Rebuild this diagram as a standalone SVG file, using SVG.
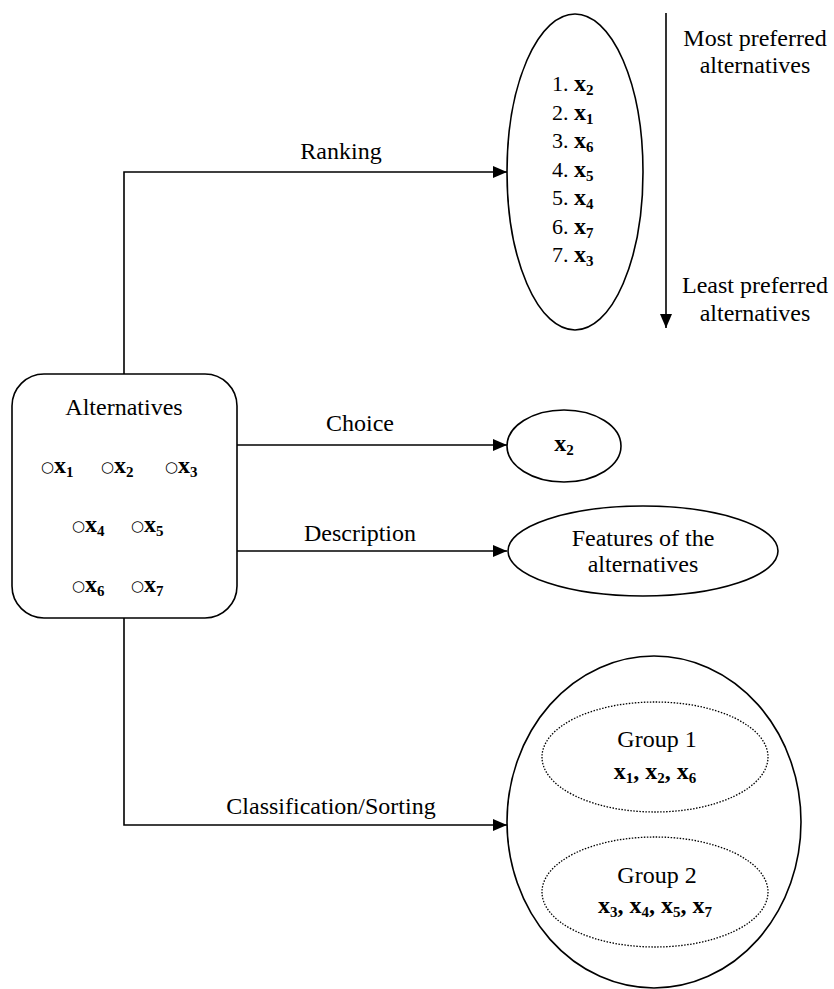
<svg xmlns="http://www.w3.org/2000/svg" width="834" height="989" viewBox="0 0 834 989">
<style>
text{font-family:"Liberation Serif","Times New Roman",serif;fill:#000}
.l{font-size:24px}
.m{font-size:22px}
.b{font-weight:bold;font-size:24px}
.s{font-size:15px;font-weight:bold}
.o{font-family:"DejaVu Sans",sans-serif;font-size:15px}
.c{text-anchor:middle}
.sh{fill:#fff;stroke:#000;stroke-width:1.6}
.dot{fill:none;stroke:#000;stroke-width:1.3;stroke-dasharray:1.5 1.5}
.cn{fill:none;stroke:#000;stroke-width:1.6}
</style>
<defs>
<marker id="ah" viewBox="0 0 14 12" refX="14" refY="6" markerWidth="14" markerHeight="12" markerUnits="userSpaceOnUse" orient="auto">
<path d="M0,0 L14,6 L0,12 Z" fill="#000"/>
</marker>
</defs>
<rect width="834" height="989" fill="#fff"/>
<g id="connectors">
<polyline class="cn" points="124,374 124,172 507,172" marker-end="url(#ah)"/>
<line class="cn" x1="237" y1="445" x2="507" y2="445" marker-end="url(#ah)"/>
<line class="cn" x1="237" y1="551" x2="507" y2="551" marker-end="url(#ah)"/>
<polyline class="cn" points="124,618 124,825 507,825" marker-end="url(#ah)"/>
<line class="cn" x1="666" y1="13" x2="666" y2="328" marker-end="url(#ah)"/>
<text class="l c" x="341" y="159">Ranking</text>
<text class="l c" x="360" y="431">Choice</text>
<text class="l c" x="360" y="541">Description</text>
<text class="l c" x="331" y="814">Classification/Sorting</text>
</g>
<g id="alternatives">
<rect class="sh" x="12" y="374" width="225" height="244" rx="32" ry="32"/>
<text class="l c" x="124" y="415">Alternatives</text>
<text class="m" x="41" y="473"><tspan class="o" dy="-1">○</tspan><tspan class="b" dy="1">x</tspan><tspan class="s" dy="4">1</tspan></text>
<text class="m" x="101" y="473"><tspan class="o" dy="-1">○</tspan><tspan class="b" dy="1">x</tspan><tspan class="s" dy="4">2</tspan></text>
<text class="m" x="165" y="473"><tspan class="o" dy="-1">○</tspan><tspan class="b" dy="1">x</tspan><tspan class="s" dy="4">3</tspan></text>
<text class="m" x="72" y="532"><tspan class="o" dy="-1">○</tspan><tspan class="b" dy="1">x</tspan><tspan class="s" dy="4">4</tspan></text>
<text class="m" x="131" y="532"><tspan class="o" dy="-1">○</tspan><tspan class="b" dy="1">x</tspan><tspan class="s" dy="4">5</tspan></text>
<text class="m" x="72" y="592"><tspan class="o" dy="-1">○</tspan><tspan class="b" dy="1">x</tspan><tspan class="s" dy="4">6</tspan></text>
<text class="m" x="131" y="592"><tspan class="o" dy="-1">○</tspan><tspan class="b" dy="1">x</tspan><tspan class="s" dy="4">7</tspan></text>
</g>
<g id="ranking">
<ellipse class="sh" cx="575" cy="172" rx="68" ry="158"/>
<text class="m" x="552" y="91">1. <tspan class="b">x</tspan><tspan class="s" dy="4">2</tspan></text>
<text class="m" x="552" y="119.5">2. <tspan class="b">x</tspan><tspan class="s" dy="4">1</tspan></text>
<text class="m" x="552" y="148">3. <tspan class="b">x</tspan><tspan class="s" dy="4">6</tspan></text>
<text class="m" x="552" y="176.5">4. <tspan class="b">x</tspan><tspan class="s" dy="4">5</tspan></text>
<text class="m" x="552" y="205">5. <tspan class="b">x</tspan><tspan class="s" dy="4">4</tspan></text>
<text class="m" x="552" y="233.5">6. <tspan class="b">x</tspan><tspan class="s" dy="4">7</tspan></text>
<text class="m" x="552" y="262">7. <tspan class="b">x</tspan><tspan class="s" dy="4">3</tspan></text>
</g>
<g id="preference-labels">
<text class="l c" x="755" y="46">Most preferred</text>
<text class="l c" x="755" y="73">alternatives</text>
<text class="l c" x="755" y="293">Least preferred</text>
<text class="l c" x="755" y="321">alternatives</text>
</g>
<g id="choice">
<ellipse class="sh" cx="564" cy="446" rx="57" ry="36"/>
<text class="m c" x="564" y="451"><tspan class="b">x</tspan><tspan class="s" dy="4">2</tspan></text>
</g>
<g id="description">
<ellipse class="sh" cx="643" cy="551" rx="135" ry="45"/>
<text class="l c" x="643" y="546">Features of the</text>
<text class="l c" x="643" y="572">alternatives</text>
</g>
<g id="classification">
<ellipse class="sh" cx="654" cy="822" rx="147" ry="166"/>
<g id="group1">
<ellipse class="dot" cx="655" cy="757" rx="113" ry="55"/>
<text class="l c" x="657" y="747">Group 1</text>
<text class="m c" x="655" y="779"><tspan class="b">x</tspan><tspan class="s" dy="4">1</tspan><tspan class="b" dy="-4">, x</tspan><tspan class="s" dy="4">2</tspan><tspan class="b" dy="-4">, x</tspan><tspan class="s" dy="4">6</tspan></text>
</g>
<g id="group2">
<ellipse class="dot" cx="655" cy="892" rx="113" ry="55"/>
<text class="l c" x="657" y="883">Group 2</text>
<text class="m c" x="655" y="913"><tspan class="b">x</tspan><tspan class="s" dy="4">3</tspan><tspan class="b" dy="-4">, x</tspan><tspan class="s" dy="4">4</tspan><tspan class="b" dy="-4">, x</tspan><tspan class="s" dy="4">5</tspan><tspan class="b" dy="-4">, x</tspan><tspan class="s" dy="4">7</tspan></text>
</g>
</g>
</svg>
